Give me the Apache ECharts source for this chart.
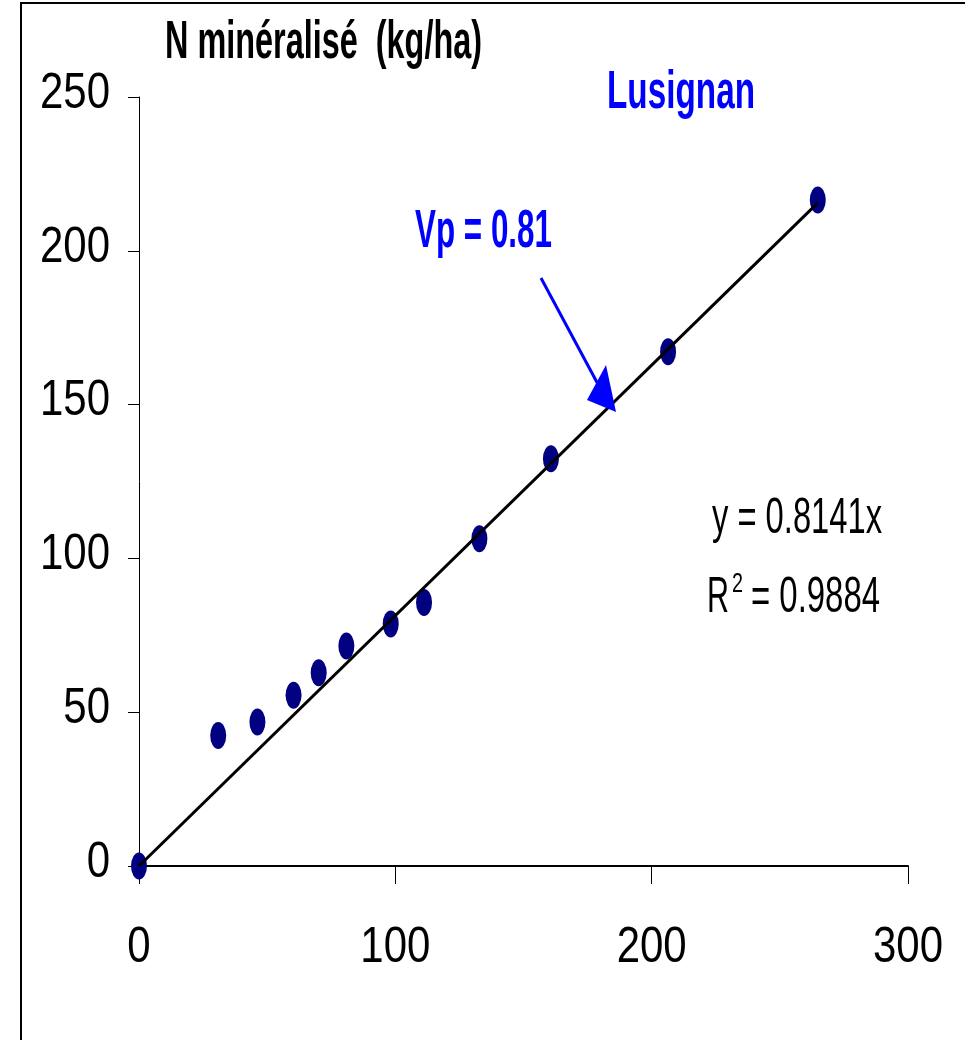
<!DOCTYPE html>
<html>
<head>
<meta charset="utf-8">
<script src="https://cdn.jsdelivr.net/npm/echarts@6/dist/echarts.min.js"></script>
<style>
  html, body { margin: 0; padding: 0; background: #fff; }
  #chart { width: 965px; height: 1040px; }
</style>
</head>
<body>
<div id="chart"></div>
<script>
// Mineralised nitrogen vs. potential, Lusignan site
const xValues = [0, 30.9, 46.2, 60.3, 70.1, 80.9, 98.2, 111.2, 132.8, 160.7, 206.4, 264.8];
const yValues = [0, 42.4, 46.8, 55.5, 62.8, 71.5, 78.7, 85.7, 106.4, 132.4, 167.2, 216.5];
const slope = 0.8141;
const rSquared = 0.9884;
const vp = 0.81;
const xTicks = [0, 100, 200, 300];
const yTicks = [0, 50, 100, 150, 200, 250];
const yTitle = 'N minéralisé  (kg/ha)';
const siteName = 'Lusignan';

const FONT = "'Liberation Sans', Arial, sans-serif";
const NARROW_SCALE = 0.84; // horizontal squeeze giving a narrow-face look

const points = xValues.map((x, i) => [x, yValues[i]]);
const xMaxData = Math.max(...xValues);
const trend = [[0, 0], [xMaxData, slope * xMaxData]];

// Fit condensed text into a given width by horizontal scaling
const measureCtx = document.createElement('canvas').getContext('2d');
function fitText(text, font, left, midY, width, color) {
  measureCtx.font = font;
  const w = measureCtx.measureText(text).width;
  return {
    type: 'text',
    x: left, y: midY,
    scaleX: width / w,
    z: 100,
    style: { text: text, font: font, fill: color, align: 'left', verticalAlign: 'middle' }
  };
}
function tickText(text, x, y, align) {
  return {
    type: 'text', x: x, y: y, scaleX: NARROW_SCALE, z: 100,
    style: { text: text, font: '50px ' + FONT, fill: '#000', align: align, verticalAlign: 'middle' }
  };
}

const chart = echarts.init(document.getElementById('chart'), null, { renderer: 'canvas' });

const baseOption = {
  backgroundColor: '#fff',
  animation: false,
  grid: { left: 139, right: 57, top: 97, bottom: 174, containLabel: false },
  xAxis: {
    type: 'value',
    min: xTicks[0], max: xTicks[xTicks.length - 1], interval: 100,
    axisLine: { show: true, onZero: false, lineStyle: { color: '#000', width: 2 } },
    axisTick: { show: true, length: 18, lineStyle: { color: '#000', width: 1 } },
    axisLabel: { show: false },
    splitLine: { show: false }
  },
  yAxis: {
    type: 'value',
    min: yTicks[0], max: yTicks[yTicks.length - 1], interval: 50,
    axisLine: { show: true, onZero: false, lineStyle: { color: '#000', width: 1 } },
    axisTick: { show: true, length: 11, lineStyle: { color: '#000', width: 1 } },
    axisLabel: { show: false },
    splitLine: { show: false }
  },
  series: [
    {
      type: 'scatter',
      data: points,
      symbol: 'circle',
      symbolSize: [16, 27],
      itemStyle: { color: '#000080', opacity: 1 },
      z: 2
    },
    {
      type: 'line',
      data: trend,
      symbol: 'none',
      lineStyle: { color: '#000', width: 3 },
      z: 3
    }
  ]
};
chart.setOption(baseOption);

// Tick labels placed through the axis scales, in a narrow setting
const labels = [];
xTicks.forEach(v => {
  const p = chart.convertToPixel({ gridIndex: 0 }, [v, 0]);
  labels.push(tickText(String(v), p[0], p[1] + 82, 'center'));
});
yTicks.forEach(v => {
  const p = chart.convertToPixel({ gridIndex: 0 }, [0, v]);
  labels.push(tickText(String(v), p[0] - 29, p[1] - 3, 'right'));
});

chart.setOption({
  graphic: [
    // frame
    { type: 'rect', shape: { x: 21, y: 3, width: 1000, height: 1100 },
      style: { fill: 'none', stroke: '#000', lineWidth: 2 }, z: 0 },
    ...labels,
    fitText(yTitle, 'bold 53px ' + FONT, 165, 43, 317, '#000'),
    fitText(siteName, 'bold 54px ' + FONT, 607, 93, 148, '#0000FF'),
    fitText('Vp = ' + vp.toFixed(2), 'bold 54px ' + FONT, 415, 232, 137, '#0000FF'),
    fitText('y = ' + slope.toFixed(4) + 'x', '50px ' + FONT, 712, 519, 170, '#000'),
    fitText('R', '50px ' + FONT, 707, 598, 22, '#000'),
    fitText('2', '27px ' + FONT, 732, 585, 11, '#000'),
    fitText('= ' + rSquared.toFixed(4), '50px ' + FONT, 751, 598, 129, '#000'),
    // arrow pointing at the regression line
    { type: 'line', shape: { x1: 541, y1: 278, x2: 600, y2: 388 },
      style: { stroke: '#0000FF', lineWidth: 3 }, z: 100 },
    { type: 'polygon', shape: { points: [[616, 412], [587, 400], [606, 365]] },
      style: { fill: '#0000FF' }, z: 100 }
  ]
});
</script>
</body>
</html>
